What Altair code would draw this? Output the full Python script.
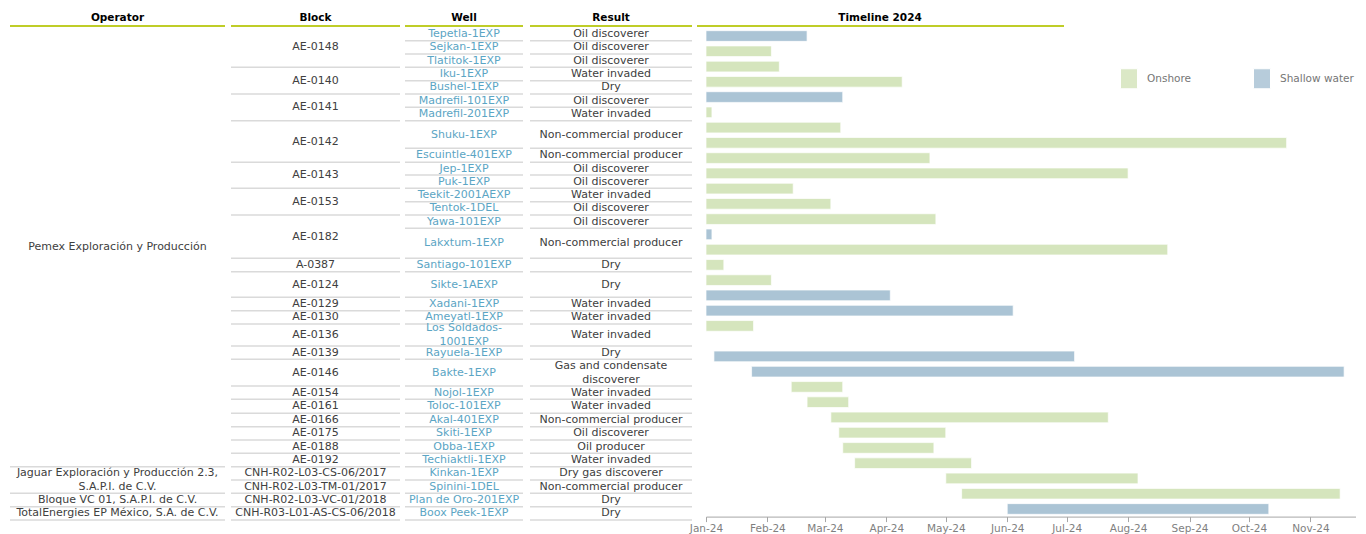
import altair as alt
import pandas as pd

# ---------------- data ----------------
OPERATORS = (["Pemex Exploración y Producción"] * 28
             + ["Jaguar Exploración y Producción 2.3,\nS.A.P.I. de C.V."] * 2
             + ["Bloque VC 01, S.A.P.I. de C.V.", "TotalEnergies EP México, S.A. de C.V."])

BLOCKS = (["AE-0148"] * 3 + ["AE-0140"] * 2 + ["AE-0141"] * 2 + ["AE-0142"] * 2
          + ["AE-0143"] * 2 + ["AE-0153"] * 2 + ["AE-0182"] * 2
          + ["A-0387", "AE-0124", "AE-0129", "AE-0130", "AE-0136", "AE-0139", "AE-0146",
             "AE-0154", "AE-0161", "AE-0166", "AE-0175", "AE-0188", "AE-0192",
             "CNH-R02-L03-CS-06/2017", "CNH-R02-L03-TM-01/2017",
             "CNH-R02-L03-VC-01/2018", "CNH-R03-L01-AS-CS-06/2018"])

WELLS = ["Tepetla-1EXP", "Sejkan-1EXP", "Tlatitok-1EXP", "Iku-1EXP", "Bushel-1EXP",
         "Madrefil-101EXP", "Madrefil-201EXP", "Shuku-1EXP", "Escuintle-401EXP", "Jep-1EXP",
         "Puk-1EXP", "Teekit-2001AEXP", "Tentok-1DEL", "Yawa-101EXP", "Lakxtum-1EXP",
         "Santiago-101EXP", "Sikte-1AEXP", "Xadani-1EXP", "Ameyatl-1EXP",
         "Los Soldados-\n1001EXP", "Rayuela-1EXP", "Bakte-1EXP", "Nojol-1EXP",
         "Toloc-101EXP", "Akal-401EXP", "Skiti-1EXP", "Obba-1EXP", "Techiaktli-1EXP",
         "Kinkan-1EXP", "Spinini-1DEL", "Plan de Oro-201EXP", "Boox Peek-1EXP"]

RESULTS = ["Oil discoverer", "Oil discoverer", "Oil discoverer", "Water invaded", "Dry",
           "Oil discoverer", "Water invaded", "Non-commercial producer",
           "Non-commercial producer", "Oil discoverer", "Oil discoverer", "Water invaded",
           "Oil discoverer", "Oil discoverer", "Non-commercial producer", "Dry", "Dry",
           "Water invaded", "Water invaded", "Water invaded", "Dry",
           "Gas and condensate\ndiscoverer", "Water invaded", "Water invaded",
           "Non-commercial producer", "Oil discoverer", "Oil producer", "Water invaded",
           "Dry gas discoverer", "Non-commercial producer", "Dry", "Dry"]

# timeline bars (one slot per well; None = no bar)
ENV = ["Shallow water", "Onshore", "Onshore", "Onshore", "Shallow water", "Onshore",
       "Onshore", "Onshore", "Onshore", "Onshore", "Onshore", "Onshore", "Onshore",
       "Shallow water", "Onshore", "Onshore", "Onshore", "Shallow water", "Shallow water",
       "Onshore", None, "Shallow water", "Shallow water", "Onshore", "Onshore", "Onshore",
       "Onshore", "Onshore", "Onshore", "Onshore", "Onshore", "Shallow water"]
START = ["2024-01-01"] * 20 + [None, "2024-01-05", "2024-01-24", "2024-02-13",
                               "2024-02-21", "2024-03-04", "2024-03-08", "2024-03-10",
                               "2024-03-16", "2024-05-01", "2024-05-09", "2024-06-01"]
END = ["2024-02-21", "2024-02-03", "2024-02-07", "2024-04-09", "2024-03-10", "2024-01-04",
       "2024-03-09", "2024-10-20", "2024-04-23", "2024-08-01", "2024-02-14", "2024-03-04",
       "2024-04-26", "2024-01-04", "2024-08-21", "2024-01-10", "2024-02-03", "2024-04-03",
       "2024-06-04", "2024-01-25", None, "2024-07-05", "2024-11-18", "2024-03-10",
       "2024-03-13", "2024-07-22", "2024-05-01", "2024-04-25", "2024-05-14", "2024-08-06",
       "2024-11-16", "2024-10-11"]

HEADERS = ["Operator", "Block", "Well", "Result", "Timeline 2024"]

# ---------------- layout / style ----------------
FONT = "DejaVu Sans"
TEXT_C = "#404040"
WELL_C = "#5ba5c4"
SEP_C = "#dadada"
HEAD_LINE_C = "#bfcd28"
ON_C = "#d5e5bd"
SH_C = "#abc4d5"
LINE_H = 14

HEADER_H = 19.3
ROW_H = [13.4, 13.3, 13.3, 13.4, 13.3, 13.3, 13.4, 27.6, 14, 12.7, 13.3, 13.4, 13.3, 13.3,
         30, 13.4, 25.6, 13.4, 13.3, 22, 13.3, 26.7, 13.3, 14, 13.4, 13.3, 13.3, 13.4,
         13.3, 13.3, 13.4, 13.3]
TABLE_H = 512

tops = []
acc = HEADER_H
for h in ROW_H:
    tops.append(acc)
    acc += h
bots = [t + h for t, h in zip(tops, ROW_H)]

ysc = alt.Scale(domain=[0, TABLE_H], reverse=True, nice=False, zero=False)


def cell(text, top, bot):
    n = text.count("\n") + 1
    return {"text": text, "ty": (top + bot) / 2 - (n - 1) * LINE_H / 2, "bot": bot}


def grouped(values):
    out = []
    i = 0
    while i < len(values):
        j = i
        while j + 1 < len(values) and values[j + 1] == values[i]:
            j += 1
        out.append(cell(values[i], tops[i], bots[j]))
        i = j + 1
    return pd.DataFrame(out)


def per_row(values):
    return pd.DataFrame([cell(v, tops[i], bots[i]) for i, v in enumerate(values)])


def column(df, header, width, x0, x1, color):
    cx = (x0 + x1) / 2
    base = alt.Chart(df)
    sep = base.mark_rule(color=SEP_C, strokeWidth=1.5).encode(
        x=alt.value(x0), x2=alt.value(x1),
        y=alt.Y("bot:Q", scale=ysc, axis=None))
    txt = base.mark_text(align="center", baseline="middle", font=FONT, fontSize=11,
                         color=color, lineBreak="\n", lineHeight=LINE_H).encode(
        x=alt.value(cx), y=alt.Y("ty:Q", scale=ysc, axis=None), text="text:N")
    hd = pd.DataFrame({"h": [header]})
    htxt = alt.Chart(hd).mark_text(align="center", baseline="middle", font=FONT,
                                   fontSize=10.5, fontWeight="bold", color="#000000").encode(
        x=alt.value(cx), y=alt.value(10), text="h:N")
    hline = alt.Chart(hd).mark_rule(color=HEAD_LINE_C, strokeWidth=2).encode(
        x=alt.value(x0), x2=alt.value(x1), y=alt.value(18))
    return alt.layer(sep, txt, htxt, hline).properties(width=width, height=TABLE_H)


c_op = column(grouped(OPERATORS), HEADERS[0], 220, 2, 217, TEXT_C)
c_bl = column(grouped(BLOCKS), HEADERS[1], 175, 3, 172, TEXT_C)
c_we = column(per_row(WELLS), HEADERS[2], 125, 2, 120, WELL_C)
c_re = column(per_row(RESULTS), HEADERS[3], 178, 2, 164, TEXT_C)

# ---------------- timeline ----------------
bars = pd.DataFrame({"well": WELLS, "env": ENV, "start": START, "end": END}).dropna()
bars["start"] = bars["start"] + "T00:00:00"
bars["end"] = bars["end"] + "T00:00:00"

TL_W = 650
TL_H = 508.6

gantt = alt.Chart(bars).mark_bar(stroke="#ffffff", strokeWidth=1, strokeOpacity=0.7).encode(
    x=alt.X("start:T",
            scale=alt.Scale(domain=[alt.DateTime(year=2024, month=1, date=1),
                                    alt.DateTime(year=2024, month=11, date=24)], nice=False),
            axis=alt.Axis(format="%b-%y", tickCount={"interval": "month", "step": 1},
                          title=None, grid=False, labelFlush=False, labelOverlap=False,
                          labelFont=FONT, labelFontSize=10.5, labelColor="#7f7f7f",
                          domainColor="#a6a6a6", tickColor="#a6a6a6", tickSize=5,
                          labelPadding=1.5)),
    x2="end:T",
    y=alt.Y("well:N", scale=alt.Scale(domain=WELLS, range=[20.4, TL_H],
                                      paddingInner=0.3, paddingOuter=0.15),
            axis=None),
    color=alt.Color("env:N",
                    scale=alt.Scale(domain=["Onshore", "Shallow water"], range=[ON_C, SH_C]),
                    legend=alt.Legend(orient="none", legendX=1110.5, legendY=60,
                                      direction="horizontal", title=None, padding=0,
                                      symbolType="M-0.85,-1H0.85V1H-0.85Z", symbolSize=400,
                                      symbolStrokeColor="#ffffff", symbolStrokeWidth=1,
                                      symbolOpacity=0.85,
                                      labelFont=FONT, labelFontSize=10.5, labelColor="#767676",
                                      labelOffset=7.5, columnPadding=60)),
)

thd = pd.DataFrame({"h": [HEADERS[4]]})
t_txt = alt.Chart(thd).mark_text(align="center", baseline="middle", font=FONT, fontSize=10.5,
                                 fontWeight="bold", color="#000000").encode(
    x=alt.value(174), y=alt.value(10), text="h:N")
t_line = alt.Chart(thd).mark_rule(color=HEAD_LINE_C, strokeWidth=2).encode(
    x=alt.value(-9), x2=alt.value(358), y=alt.value(18))

c_tl = alt.layer(gantt, t_txt, t_line).properties(width=TL_W, height=TL_H)

chart = alt.hconcat(c_op, c_bl, c_we, c_re, c_tl, spacing=0, bounds="flush").properties(
    padding=0).configure_view(stroke=None)

chart.save("out.html", embed_options={"renderer": "svg", "actions": False})
